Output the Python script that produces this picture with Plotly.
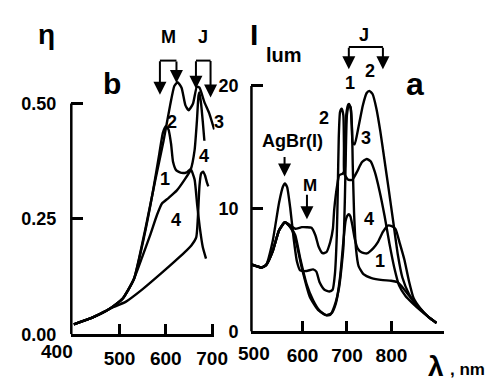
import plotly.graph_objects as go

W, H = 496, 385

# ---------------- panel b (left): spectral sensitization efficiency ----------------
b_top_wl = [401.4, 443.7, 478.9, 507.1, 531.1, 556.4, 577.6, 595.2, 609.3, 618.4, 625.5, 634.0,
            642.4, 649.4, 658.6, 667.1, 672.7, 683.3, 693.8, 704.4]
b_top_eta = [0.0217, 0.0372, 0.0553, 0.0776, 0.1195, 0.2310, 0.3355, 0.4192, 0.4958, 0.5377, 0.5460,
             0.5342, 0.4958, 0.4854, 0.4993, 0.5363, 0.5342, 0.5028, 0.4784, 0.4436]

b_c1_wl = [401.4, 443.7, 478.9, 507.1, 531.1, 552.9, 571.9, 586.0, 593.8, 600.1, 605.8, 611.4,
           615.6, 622.7, 634.0, 645.2, 653.7, 662.1, 667.8, 673.4, 679.8, 686.8]
b_c1_eta = [0.0217, 0.0372, 0.0553, 0.0776, 0.1195, 0.2101, 0.3076, 0.3913, 0.4366, 0.4505, 0.4436,
            0.4122, 0.3739, 0.3550, 0.3495, 0.3509, 0.3578, 0.3355, 0.2798, 0.2310, 0.1892, 0.1641]

b_mid_wl = [401.4, 443.7, 478.9, 507.1, 531.1, 549.4, 567.0, 581.1, 591.7, 605.8, 623.4, 641.0,
            653.7, 662.1, 667.1, 670.6, 672.7, 676.2, 679.8, 683.3]
b_mid_eta = [0.0217, 0.0372, 0.0553, 0.0776, 0.1195, 0.1682, 0.2170, 0.2589, 0.2833, 0.2951, 0.3111,
             0.3355, 0.3564, 0.3983, 0.4610, 0.5167, 0.5240, 0.4993, 0.4610, 0.4192]

b_low_wl = [401.4, 443.7, 478.9, 514.1, 549.4, 591.7, 626.9, 655.1, 665.7, 669.2, 672.7, 676.2,
            680.5, 684.7, 688.9, 691.7]
b_low_eta = [0.0217, 0.0372, 0.0553, 0.0707, 0.0972, 0.1334, 0.1648, 0.1926, 0.2101, 0.2519, 0.3216,
             0.3481, 0.3523, 0.3439, 0.3286, 0.3202]

# ---------------- panel a (right): luminescence intensity ----------------
a1_wl = [485.1, 496.1, 507.0, 518.0, 532.6, 547.2, 560.3, 572.7, 583.7, 594.6, 609.2, 623.8, 638.4,
         653.0, 662.5, 671.3, 682.3, 691.8, 695.4, 697.6, 699.8, 704.2, 708.5, 711.5, 712.9, 715.9,
         720.2, 726.1, 737.0, 755.3, 780.8, 799.1, 813.7, 824.6, 839.2, 853.9, 872.1, 886.7, 901.3]
a1_int = [5.45, 5.32, 5.19, 5.40, 6.51, 8.23, 8.89, 8.49, 7.83, 5.98, 3.86, 2.54, 1.69,
          1.32, 1.35, 2.01, 3.60, 6.77, 11.00, 14.97, 17.62, 18.53, 18.15, 16.30, 13.65, 9.68,
          6.77, 5.32, 4.66, 4.34, 4.18, 4.13, 4.00, 3.60, 2.94, 2.27, 1.56, 1.08, 0.69]

a2_wl = [485.1, 496.1, 507.0, 518.0, 532.6, 547.2, 556.0, 560.3, 565.4, 572.7, 580.0, 587.3, 594.6,
         609.2, 623.8, 631.1, 638.4, 649.4, 660.4, 667.7, 672.8, 677.1, 679.3, 681.5, 684.4, 688.1,
         691.8, 693.2, 693.9, 702.0, 711.5, 722.4, 733.4, 744.3, 753.1, 762.6, 773.5, 784.5, 795.4,
         806.4, 817.3, 832.0, 846.6, 868.5, 886.7, 901.3]
a2_int = [5.45, 5.32, 5.19, 5.40, 7.30, 10.48, 11.80, 12.06, 11.75, 9.95, 7.57, 5.71, 4.97,
          4.92, 5.05, 4.87, 4.00, 3.39, 3.25, 3.39, 4.66, 7.83, 11.53, 15.77, 17.88, 18.15,
          17.62, 14.97, 12.86, 12.38, 12.33, 12.99, 13.78, 14.05, 13.86, 12.99, 11.40, 9.42, 7.17,
          5.19, 3.73, 2.86, 2.33, 1.61, 1.08, 0.69]

a3_wl = [485.1, 496.1, 507.0, 518.0, 532.6, 547.2, 560.3, 572.7, 583.7, 598.3, 609.2, 620.2, 628.9,
         636.3, 645.0, 653.7, 662.5, 668.3, 671.3, 678.6, 682.3, 690.3, 694.7, 696.1, 698.3, 702.7,
         707.8, 710.7, 712.9, 717.3, 726.1, 735.6, 744.3, 750.2, 757.5, 766.2, 775.0, 784.5, 794.0,
         804.2, 814.4, 824.6, 839.2, 853.9, 872.1, 886.7, 901.3]
a3_int = [5.45, 5.32, 5.19, 5.40, 6.51, 8.23, 8.89, 8.63, 8.36, 8.49, 8.49, 8.44, 7.83,
          6.90, 6.37, 6.45, 7.30, 8.36, 9.95, 12.06, 12.72, 12.86, 13.12, 14.97, 17.62, 18.49,
          18.28, 16.82, 15.37, 15.24, 16.69, 18.41, 19.42, 19.60, 19.34, 18.15, 16.30, 13.92, 11.53,
          8.89, 6.24, 4.39, 3.07, 2.27, 1.56, 1.08, 0.69]

a4_wl = [485.1, 496.1, 507.0, 518.0, 532.6, 547.2, 560.3, 572.7, 583.7, 598.3, 616.5, 634.8, 653.0,
         665.5, 675.0, 684.4, 691.8, 696.9, 700.5, 704.2, 707.8, 712.2, 717.3, 723.9, 732.6, 744.3,
         758.9, 769.9, 780.8, 791.8, 800.6, 809.3, 818.8, 829.0, 839.2, 850.2, 864.8, 883.1, 901.3]
a4_int = [5.45, 5.32, 5.19, 5.40, 6.51, 8.23, 8.89, 8.49, 7.57, 5.19, 2.80, 1.75, 1.32,
          1.48, 2.27, 4.39, 7.30, 9.02, 9.42, 9.55, 9.36, 8.62, 7.57, 6.77, 6.45, 6.35,
          6.77, 7.30, 8.10, 8.62, 8.57, 8.33, 7.17, 5.85, 4.13, 2.67, 1.88, 1.16, 0.69]

# tick labels
b_xticks = [500, 600, 700]
b_xtext = ["500", "600", "700"]
b_yticks = [0, 0.25, 0.5]
b_ytext = ["0.00", "0.25", "0.50"]
a_xticks = [600, 700, 800]
a_xtext = ["600", "700", "800"]
a_yticks = [0, 10, 20]
a_ytext = ["0", "10", "20"]

FONT = "Liberation Sans, Arial, sans-serif"
LW = 2.4


def px(x):
    return x / W


def py(y):
    return 1 - y / H


fig = go.Figure()
for wl, v in [(b_top_wl, b_top_eta), (b_c1_wl, b_c1_eta), (b_mid_wl, b_mid_eta), (b_low_wl, b_low_eta)]:
    fig.add_trace(go.Scatter(x=wl, y=v, mode="lines", xaxis="x", yaxis="y",
                             line=dict(color="black", width=LW, shape="spline", smoothing=0.5),
                             showlegend=False, hoverinfo="skip"))
for wl, v in [(a1_wl, a1_int), (a2_wl, a2_int), (a3_wl, a3_int), (a4_wl, a4_int)]:
    fig.add_trace(go.Scatter(x=wl, y=v, mode="lines", xaxis="x2", yaxis="y2",
                             line=dict(color="black", width=LW, shape="spline", smoothing=0.5),
                             showlegend=False, hoverinfo="skip"))

tickfont = dict(family=FONT, size=18, color="black", weight="bold")
xfont = dict(family=FONT, size=19, color="black", weight="bold")

common_x = dict(showline=True, linecolor="black", linewidth=2.5, ticks="inside", ticklen=11,
                tickwidth=2.5, tickcolor="black", showgrid=False, zeroline=False, tickfont=xfont,
                ticklabelstandoff=5, fixedrange=True)
common_y = dict(showline=False, ticks="inside", ticklen=12, tickwidth=2.5, tickcolor="black",
                showgrid=False, zeroline=False, tickfont=tickfont, fixedrange=True)

fig.update_layout(
    width=W, height=H, margin=dict(l=0, r=0, t=0, b=0),
    paper_bgcolor="white", plot_bgcolor="white",
    xaxis=dict(domain=[px(65), px(212)], range=[396, 705], anchor="y",
               tickvals=b_xticks, ticktext=b_xtext, **common_x),
    yaxis=dict(domain=[py(335), py(20)], range=[0, 315 / 474], anchor="x",
               tickvals=b_yticks, ticktext=b_ytext, ticklabelstandoff=14, **common_y),
    xaxis2=dict(domain=[px(250), px(448)], range=[485.1, 918.8], anchor="y2",
                tickvals=a_xticks, ticktext=a_xtext, **common_x),
    yaxis2=dict(domain=[py(332), py(20)], range=[0, 312 / 12.6], anchor="x2",
                tickvals=a_yticks, ticktext=a_ytext, ticklabelstandoff=12, **common_y),
)

shapes = [
    # y axis lines
    dict(type="line", xref="x domain", yref="y", x0=0, x1=0, y0=0, y1=0.5,
         line=dict(color="black", width=2.5)),
    dict(type="line", xref="x2 domain", yref="y2", x0=0, x1=0, y0=0, y1=20,
         line=dict(color="black", width=2.5)),
]
# bracket tops
for (x0, x1, y) in [(156, 173, 54), (193, 208, 54), (350, 385, 40)]:
    shapes.append(dict(type="line", xref="paper", yref="paper", x0=px(x0), x1=px(x1),
                       y0=py(y), y1=py(y), line=dict(color="black", width=2)))
fig.update_layout(shapes=shapes)

ann = []


def text(t, x, y, size, bold=True):
    ann.append(dict(text=t, x=px(x), y=py(y), xref="paper", yref="paper", showarrow=False,
                    xanchor="center", yanchor="middle",
                    font=dict(family=FONT, size=size, color="black",
                              weight="bold" if bold else "normal")))


def arrow(x, ytop, ytip):
    ann.append(dict(text="", x=px(x), y=py(ytip), xref="paper", yref="paper", showarrow=True,
                    ax=0, ay=-(ytip - ytop), axref="pixel", ayref="pixel",
                    arrowhead=2, arrowsize=1.3, arrowwidth=2, arrowcolor="black", standoff=0,
                    startstandoff=0))


# left panel
text("η", 40, 27, 28)
text("b", 107, 78, 30)
text("M", 165, 30, 18)
text("J", 200, 30, 18)
text("2", 168, 117, 18)
text("3", 217, 117, 18)
text("4", 201, 152, 18)
text("1", 161, 176, 18)
text("4", 173, 218, 18)
text("400", 50, 353, 19)
arrow(156, 54, 89)
arrow(173, 54, 77)
arrow(193, 54, 83)
arrow(208, 54, 92)

# right panel
text("I", 253, 27, 30)
text("lum", 283, 48, 20)
text("a", 418, 78, 32)
text("J", 366, 28, 18)
text("1", 351, 77, 18)
text("2", 372, 65, 18)
text("2", 325, 113, 18)
text("3", 368, 133, 18)
text("4", 371, 217, 18)
text("1", 382, 260, 18)
text("AgBr(I)", 292, 137, 18)
text("M", 310, 182, 17)
text("500", 253, 355, 19)
text("λ", 440, 368, 28)
text(", nm", 472, 371, 17)
arrow(350, 40, 63)
arrow(385, 40, 63)
arrow(284, 152, 173)
arrow(307, 191, 217)

fig.update_layout(annotations=ann)
fig.write_html("out.html")
